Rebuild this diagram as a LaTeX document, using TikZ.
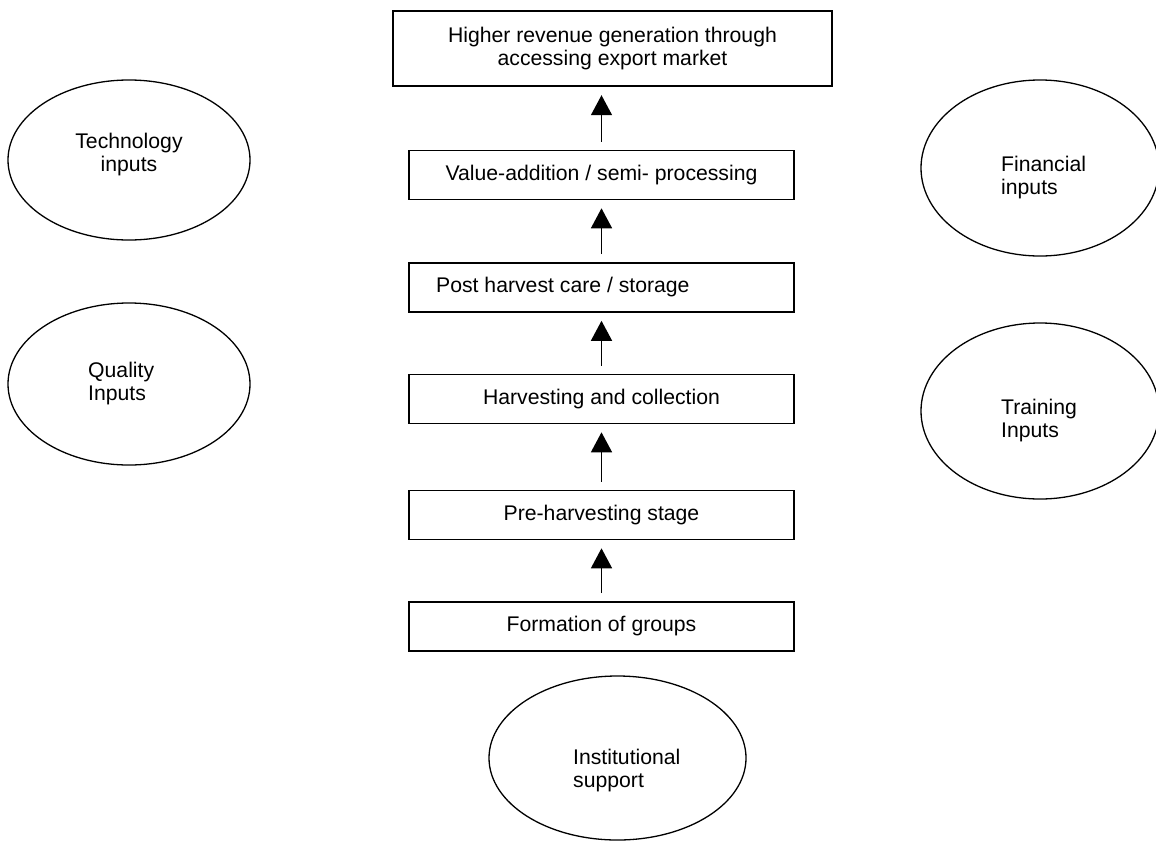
\documentclass[tikz,border=0pt]{standalone}
\usepackage{fontspec}
\setmainfont{Liberation Sans}
\usetikzlibrary{shapes.geometric,arrows.meta}
\begin{document}
\begin{tikzpicture}[x=1pt,y=-1pt,
  every node/.style={font=\fontsize{21.2}{23}\selectfont},
  stagebox/.style={draw,line width=1.6pt,rectangle,inner sep=0pt,minimum width=385pt,minimum height=49pt},
  goalbox/.style={draw,line width=2.4pt,rectangle,inner sep=0pt,minimum width=439pt,minimum height=75pt,align=center},
  oval/.style={draw,line width=1.3pt,ellipse,inner sep=0pt},
  lbl/.style={align=left,inner sep=0pt},
  flow/.style={line width=1.5pt,-{Triangle[width=21pt,length=20pt]},shorten <=8pt,shorten >=8pt}]
\useasboundingbox (0,0) rectangle (1156,841);
\fill[white] (0,0) rectangle (1156,841);

% stages
\node[goalbox] (goal) at (612.5,48.5) {Higher revenue generation through\\accessing export market};
\node[stagebox] (value) at (601.5,175) {Value-addition / semi- processing};
\node[stagebox] (post) at (601.5,287.5) {};
\node[lbl,anchor=west] (posttxt) at (436,287) {Post harvest care / storage};
\node[stagebox] (harv) at (601.5,399) {Harvesting and collection};
\node[stagebox] (pre) at (601.5,515) {Pre-harvesting stage};
\node[stagebox] (form) at (601.5,626.5) {Formation of groups};

% arrows
\draw[flow] (value.north) -- (value.north |- goal.south);
\draw[flow] (post.north) -- (value.south);
\draw[flow] (harv.north) -- (post.south);
\draw[flow] (pre.north) -- (harv.south);
\draw[flow] (form.north) -- (pre.south);

% ellipses
\node[oval,minimum width=242pt,minimum height=160pt] (tech) at (129,160) {};
\node[lbl,align=center] (techtxt) at (129,155) {Technology\\inputs};
\node[oval,minimum width=242pt,minimum height=162pt] (qual) at (129,384) {};
\node[lbl,anchor=west] (qualtxt) at (88,384) {Quality\\Inputs};
\node[oval,minimum width=238pt,minimum height=176pt] (fin) at (1040,168) {};
\node[lbl,anchor=west] (fintxt) at (1001,178) {Financial\\inputs};
\node[oval,minimum width=238pt,minimum height=176pt] (train) at (1040,411) {};
\node[lbl,anchor=west] (traintxt) at (1001,421) {Training\\Inputs};
\node[oval,minimum width=257pt,minimum height=164pt] (inst) at (617.5,758) {};
\node[lbl,anchor=west] (insttxt) at (573,771) {Institutional\\support};
\end{tikzpicture}
\end{document}
